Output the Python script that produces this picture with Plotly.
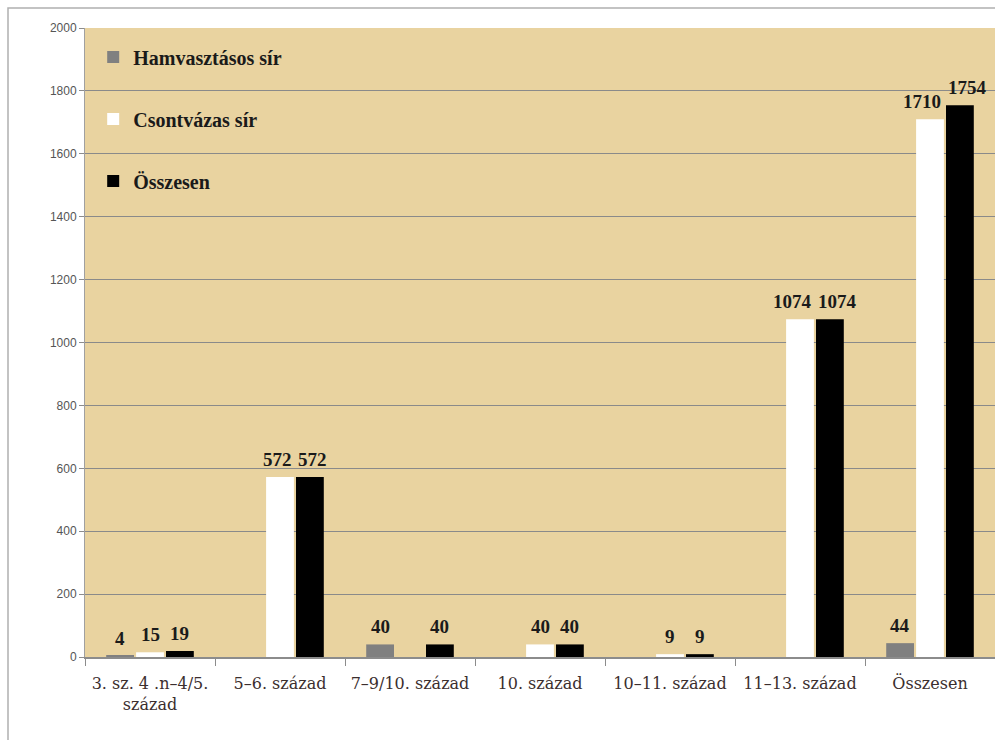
import plotly.graph_objects as go

categories = ["3. sz. 4 .n–4/5.<br>század", "5–6. század", "7–9/10. század",
              "10. század", "10–11. század", "11–13. század", "Összesen"]
hamvasztasos = [4, None, 40, None, None, None, 44]
csontvazas = [15, 572, None, 40, 9, 1074, 1710]
osszesen = [19, 572, 40, 40, 9, 1074, 1754]
series_names = ["Hamvasztásos sír", "Csontvázas sír", "Összesen"]
series_colors = ["#808080", "#ffffff", "#000000"]
y_ticks = list(range(0, 2001, 200))

serif = "Liberation Serif, DejaVu Serif, serif"
all_series = [hamvasztasos, csontvazas, osszesen]

W, H = 995, 740
ML, MR, MT, MB = 85, 0, 28, 83
plot_w = W - ML - MR
plot_h = H - MT - MB
y_max = 2000
bargap, bargroupgap = 0.31, 0.07

fig = go.Figure()
for i, (name, vals, col) in enumerate(zip(series_names, all_series, series_colors)):
    fig.add_trace(go.Bar(
        x=categories, y=vals, name=name,
        marker=dict(color=col, line=dict(width=0)),
        legendgroup=f"g{i}",
    ))

# data labels as annotations, spread apart where neighbours would collide (as Excel does)
cat_px = plot_w / len(categories)
slot_px = cat_px * (1 - bargap) / len(all_series)
px_per_unit = plot_h / y_max
char_w, min_gap = 10.0, 5.0
label_font = dict(family=serif, size=19, color="#1a1a1a", weight="bold")
for ci, cat in enumerate(categories):
    labels = []
    for si, vals in enumerate(all_series):
        v = vals[ci]
        if v is None:
            continue
        labels.append(dict(v=v, x=(si - (len(all_series) - 1) / 2) * slot_px,
                           w=len(str(v)) * char_w))
    for a, b in zip(labels, labels[1:]):
        if abs(a["v"] - b["v"]) * px_per_unit < 16:
            overlap = (a["x"] + a["w"] / 2 + min_gap) - (b["x"] - b["w"] / 2)
            if overlap > 0:
                a["x"] -= overlap / 2
                b["x"] += overlap / 2
    for lab in labels:
        fig.add_annotation(x=cat, y=lab["v"], xref="x", yref="y",
                           text=str(lab["v"]), showarrow=False,
                           xshift=lab["x"], yshift=5, yanchor="bottom",
                           font=label_font)

fig.update_layout(
    width=W, height=H,
    margin=dict(l=ML, r=MR, t=MT, b=MB),
    paper_bgcolor="#ffffff",
    plot_bgcolor="#e9d3a0",
    barmode="group",
    bargap=bargap,
    bargroupgap=bargroupgap,
    showlegend=True,
    legend=dict(
        x=0.009, y=0.985, xanchor="left", yanchor="top",
        bgcolor="rgba(0,0,0,0)",
        font=dict(family=serif, size=20, color="#1a1a1a", weight="bold"),
        tracegroupgap=33,
        itemwidth=30,
    ),
    xaxis=dict(
        tickfont=dict(family="DejaVu Serif, serif", size=16, color="#3b2e2e"),
        showline=True, linecolor="#8c8c8c", linewidth=1.5,
        ticks="outside", tickson="boundaries", ticklen=7, tickcolor="#8c8c8c",
        ticklabelstandoff=11,
        showgrid=False,
    ),
    yaxis=dict(
        range=[0, y_max],
        tickvals=y_ticks,
        tickfont=dict(family="Liberation Sans, Arial, sans-serif", size=12, color="#555555"),
        showline=True, linecolor="#a0a0a0", linewidth=1,
        ticks="outside", ticklen=5, tickcolor="#8c8c8c",
        showgrid=True, gridcolor="#8a8a8a", gridwidth=1,
        zeroline=False,
    ),
)

# outer thin frame around the chart (left and top edges visible)
fig.add_shape(type="rect", xref="paper", yref="paper",
              x0=(8 - ML) / plot_w, x1=1.05,
              y0=-0.2, y1=(H - MB - 8) / plot_h,
              line=dict(color="#b0b0b0", width=1.5), layer="below")

fig.write_html("out.html", config={"displayModeBar": False},
               post_script="document.body.style.margin='0';document.body.style.overflow='hidden';")
